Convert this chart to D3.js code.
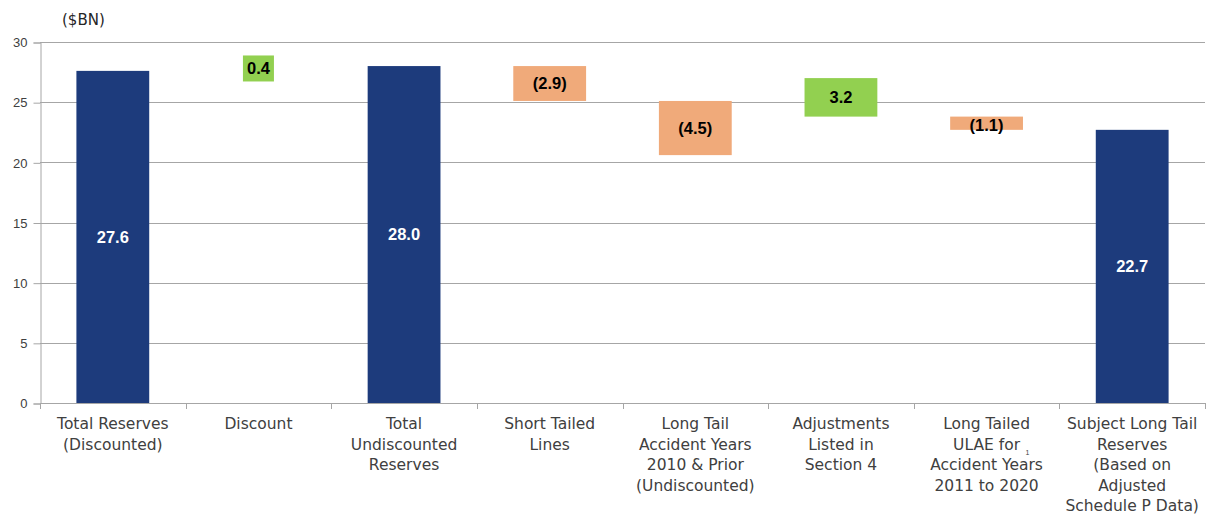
<!DOCTYPE html>
<html>
<head>
<meta charset="utf-8">
<script src="https://cdn.jsdelivr.net/npm/d3@7"></script>
<style>
  body { margin: 0; background: #fff; }
  svg { display: block; }
  .grid line { stroke: #a6a6a6; stroke-width: 1; }
  .cat { font-family: "DejaVu Sans", sans-serif; font-size: 15.5px; fill: #404040; }
  .tick text { font-family: "Liberation Sans", Arial, sans-serif; font-size: 13px; fill: #404040; }
  .lbl { font-family: "Liberation Sans", Arial, sans-serif; font-size: 16.5px; font-weight: bold; }
</style>
</head>
<body>
<svg id="chart" width="1209" height="516"></svg>
<script>

// categories (one line per array entry)
const categories = [
    ["Total Reserves", "(Discounted)"],
    ["Discount"],
    ["Total", "Undiscounted", "Reserves"],
    ["Short Tailed", "Lines"],
    ["Long Tail", "Accident Years", "2010 & Prior", "(Undiscounted)"],
    ["Adjustments", "Listed in", "Section 4"],
    ["Long Tailed", "ULAE for", "Accident Years", "2011 to 2020"],
    ["Subject Long Tail", "Reserves", "(Based on", "Adjusted", "Schedule P Data)"]
];

// bar bottoms and tops as drawn ($BN)
const barBase = [0, 27.6, 0, 25.1, 20.6, 23.8, 22.7, 0];
const barTop  = [27.6, 28.0, 28.0, 28.0, 25.1, 27.0, 23.8, 22.7];
const labels  = ["27.6", "0.4", "28.0", "(2.9)", "(4.5)", "3.2", "(1.1)", "22.7"];
const kind    = ["total", "up", "total", "down", "down", "up", "down", "total"];

const yTicks = [0, 5, 10, 15, 20, 25, 30];

const colors = { total: "#1d3b7c", up: "#92d050", down: "#f0aa7a" };

const svg = d3.select("#chart");
const plotLeft = 40, plotRight = 1205, plotTop = 42, plotBottom = 403;

const x = d3.scaleBand()
    .domain(d3.range(categories.length))
    .range([plotLeft, plotRight])
    .paddingInner(0.5)
    .paddingOuter(0.25);

const y = d3.scaleLinear().domain([0, 30]).range([plotBottom, plotTop]);

// gridlines
svg.append("g").attr("class", "grid")
    .selectAll("line")
    .data(yTicks.filter(d => d > 0))
    .enter().append("line")
    .attr("x1", plotLeft).attr("x2", plotRight)
    .attr("y1", d => Math.round(y(d)) + 0.5)
    .attr("y2", d => Math.round(y(d)) + 0.5);

// y axis
const yAxis = svg.append("g")
    .attr("transform", `translate(${plotLeft + 0.5},0.5)`)
    .call(d3.axisLeft(y).tickValues(yTicks).tickSize(7).tickPadding(6));
yAxis.selectAll("line, path").attr("stroke", "#a6a6a6");

// x axis baseline + ticks at band boundaries
const xs = d3.range(categories.length + 1).map(i => plotLeft + i * x.step());
svg.append("line")
    .attr("x1", plotLeft).attr("x2", plotRight)
    .attr("y1", plotBottom + 0.5).attr("y2", plotBottom + 0.5)
    .attr("stroke", "#a6a6a6");
svg.append("g").selectAll("line")
    .data(xs)
    .enter().append("line")
    .attr("x1", d => Math.round(d) + 0.5).attr("x2", d => Math.round(d) + 0.5)
    .attr("y1", plotBottom).attr("y2", plotBottom + 6)
    .attr("stroke", "#a6a6a6");

// bars (discount bar is hidden behind its label box)
const idx = d3.range(categories.length);
svg.append("g").selectAll("rect")
    .data(idx.filter(i => i !== 1))
    .enter().append("rect")
    .attr("x", i => x(i))
    .attr("width", x.bandwidth())
    .attr("y", i => y(barTop[i]))
    .attr("height", i => y(barBase[i]) - y(barTop[i]))
    .attr("fill", i => colors[kind[i]]);

// data labels
const lbl = svg.append("g").selectAll("g")
    .data(idx)
    .enter().append("g")
    .attr("transform", i => {
        let cy = (y(barBase[i]) + y(barTop[i])) / 2;
        if (i === 6) cy += 2;
        return `translate(${x(i) + x.bandwidth() / 2},${cy})`;
    });

lbl.filter(i => i === 1).append("rect")
    .attr("x", -15.5).attr("y", -13)
    .attr("width", 31).attr("height", 26)
    .attr("fill", colors.up);

lbl.append("text")
    .attr("class", "lbl")
    .attr("text-anchor", "middle")
    .attr("dy", "0.36em")
    .attr("fill", i => kind[i] === "total" ? "#fff" : "#000")
    .text(i => labels[i]);

// category labels
const cat = svg.append("g").selectAll("text")
    .data(idx)
    .enter().append("text")
    .attr("class", "cat")
    .attr("text-anchor", "middle")
    .attr("x", i => x(i) + x.bandwidth() / 2)
    .attr("y", 429);
cat.selectAll("tspan")
    .data(i => categories[i].map(t => ({ t, cx: x(i) + x.bandwidth() / 2 })))
    .enter().append("tspan")
    .attr("x", d => d.cx)
    .attr("dy", (d, k) => k === 0 ? 0 : 20.5)
    .text(d => d.t);

// footnote marker
svg.append("text")
    .attr("x", x(6) + x.bandwidth() / 2 + 39)
    .attr("y", 455)
    .attr("font-family", "Liberation Sans, Arial, sans-serif")
    .attr("font-size", 7)
    .attr("fill", "#404040")
    .text("1");

// unit label
svg.append("text")
    .attr("x", 62).attr("y", 25)
    .attr("font-family", "DejaVu Sans, sans-serif")
    .attr("font-size", 15)
    .attr("fill", "#262626")
    .text("($BN)");

</script>
</body>
</html>
